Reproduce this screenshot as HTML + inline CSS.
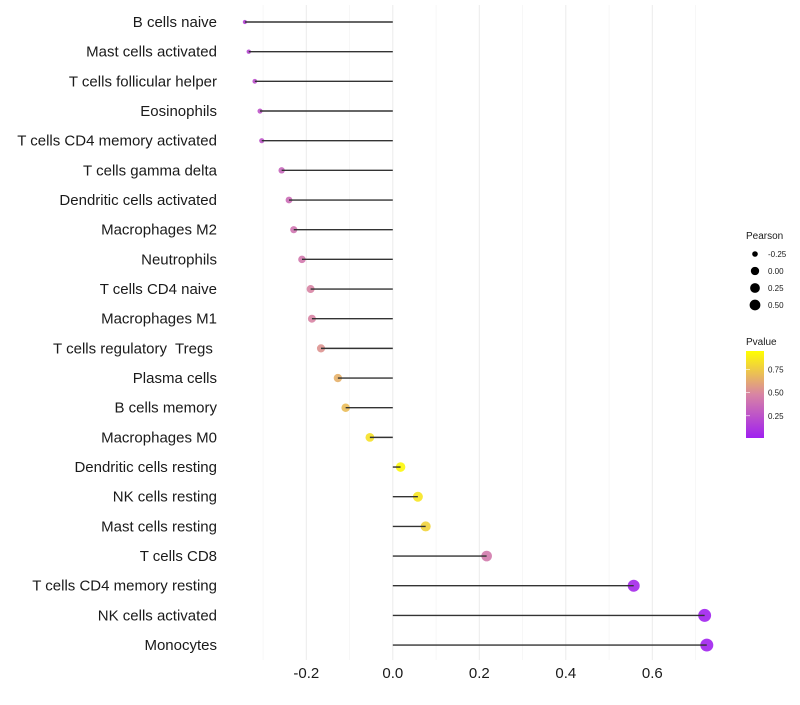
<!DOCTYPE html>
<html><head><meta charset="utf-8"><style>
body{margin:0;background:#fff;}
svg text{font-family:"Liberation Sans",sans-serif;white-space:pre;}
</style></head><body>
<svg id="chart" width="800" height="700" xmlns="http://www.w3.org/2000/svg">
<defs><linearGradient id="pg" x1="0" y1="1" x2="0" y2="0">
<stop offset="0" stop-color="#A020F0"/><stop offset="0.5" stop-color="#D884A4"/><stop offset="1" stop-color="#FFFF00"/>
</linearGradient></defs>
<g id="grid"></g><g id="marks"></g><g id="ylabels"></g><g id="xlabels"></g>
<g id="legend">
<text x="746" y="239" font-size="10" fill="#1a1a1a">Pearson</text>
<g id="sizeleg"></g>
<text x="746" y="345" font-size="10" fill="#1a1a1a">Pvalue</text>
<rect x="746" y="351" width="18" height="87" fill="url(#pg)"/>
<g id="colleg"></g>
</g>
</svg>
<script>
const categories=["B cells naive","Mast cells activated","T cells follicular helper","Eosinophils","T cells CD4 memory activated","T cells gamma delta","Dendritic cells activated","Macrophages M2","Neutrophils","T cells CD4 naive","Macrophages M1","T cells regulatory  Tregs ","Plasma cells","B cells memory","Macrophages M0","Dendritic cells resting","NK cells resting","Mast cells resting","T cells CD8","T cells CD4 memory resting","NK cells activated","Monocytes"];
const pearson=[-0.342,-0.333,-0.319,-0.307,-0.303,-0.257,-0.240,-0.229,-0.210,-0.190,-0.187,-0.166,-0.127,-0.109,-0.053,0.018,0.058,0.076,0.217,0.557,0.721,0.726];
const pvalue=[0.18,0.2,0.24,0.26,0.26,0.35,0.38,0.42,0.44,0.5,0.5,0.56,0.68,0.73,0.88,0.97,0.9,0.82,0.45,0.04,0.01,0.01];
const xTicks=[-0.2,0,0.2,0.4,0.6];
const xTickLabels=["-0.2","0.0","0.2","0.4","0.6"];
const xMinor=[-0.3,-0.1,0.1,0.3,0.5,0.7];
const sizeLegend=[-0.25,0,0.25,0.5];
const colorTicks=[0.25,0.5,0.75];
const NS="http://www.w3.org/2000/svg";
const x=v=>392.8+v*432.5;
const y=i=>22+i*29.67;
const rk=[-0.35,-0.25,-0.19,-0.05,0.06,0.56,0.73], rv=[2,3.3,4,4.4,5,6,6.5];
function r(v){if(v<=rk[0])return rv[0];for(let i=1;i<rk.length;i++){if(v<=rk[i]){const t=(v-rk[i-1])/(rk[i]-rk[i-1]);return rv[i-1]+t*(rv[i]-rv[i-1]);}}return rv[rv.length-1];}
const cy=p=>438-(p-0.01)*(87/0.94);
function lerp(a,b,t){return a.map((c,i)=>Math.round(c+(b[i]-c)*t));}
function col(p){const s=[[160,32,240],[216,132,164],[255,255,0]];let c=p<0.5?lerp(s[0],s[1],p/0.5):lerp(s[1],s[2],(p-0.5)/0.5);return `rgb(${c.join(',')})`;}
function mk(tag,attrs,parent){const e=document.createElementNS(NS,tag);for(const k in attrs)e.setAttribute(k,attrs[k]);document.getElementById(parent).appendChild(e);return e;}
xMinor.forEach(v=>{const e=mk('line',{x1:x(v),x2:x(v),y1:5,y2:660,stroke:'#f2f2f2','stroke-width':0.6},'grid');

});
xTicks.forEach((v,i)=>{const e=mk('line',{x1:x(v),x2:x(v),y1:5,y2:660,stroke:'#ebebeb','stroke-width':1},'grid');


const t=mk('text',{x:x(v),y:678,'text-anchor':'middle','font-size':15,fill:'#1a1a1a'},'xlabels');t.textContent=xTickLabels[i];

});
categories.forEach((c,i)=>{
const t=mk('text',{x:217,y:y(i)+5,'text-anchor':'end','font-size':15,fill:'#1a1a1a'},'ylabels');t.textContent=c;


const d=mk('circle',{cx:x(pearson[i]),cy:y(i),r:r(pearson[i]),fill:col(pvalue[i]),'fill-opacity':0.9},'marks');


const l=mk('line',{x1:x(0),x2:x(pearson[i]),y1:y(i),y2:y(i),stroke:'#333','stroke-width':1.4},'marks');

});
sizeLegend.forEach((v,i)=>{const d=mk('circle',{cx:755,cy:254+i*17,r:r(v)-0.5,fill:'#000'},'sizeleg');


const t=mk('text',{x:768,y:257+i*17,'font-size':8,fill:'#1a1a1a'},'sizeleg');t.textContent=v.toFixed(2);

});
colorTicks.forEach(v=>{const yy=cy(v);
const a=mk('line',{x1:746,x2:750,y1:yy,y2:yy,stroke:'#fff','stroke-width':0.6},'colleg');


const t=mk('text',{x:768,y:yy+3,'font-size':8,fill:'#1a1a1a'},'colleg');t.textContent=v.toFixed(2);

});
</script>
</body></html>
